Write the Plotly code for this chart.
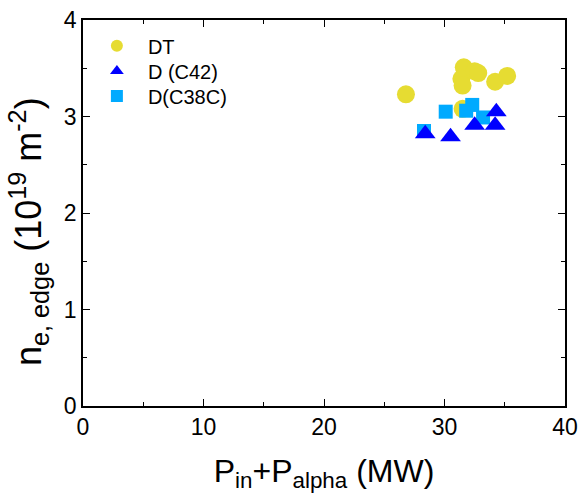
import plotly.graph_objects as go

dt_x = [26.8, 31.6, 31.4, 31.5, 32.5, 32.8, 34.2, 35.2, 31.5]
dt_y = [3.23, 3.51, 3.39, 3.32, 3.47, 3.45, 3.36, 3.42, 3.08]

c42_x = [28.4, 30.5, 32.5, 34.2, 34.3]
c42_y = [2.82, 2.79, 2.91, 2.91, 3.05]

c38_x = [28.3, 30.1, 32.3, 31.8, 33.2]
c38_y = [2.85, 3.05, 3.12, 3.06, 2.99]

FONT = "Arial, Liberation Sans, sans-serif"

fig = go.Figure()
fig.add_trace(go.Scatter(x=dt_x, y=dt_y, mode="markers", name="DT", legend="legend", showlegend=True,
                         marker=dict(symbol="circle", size=18, color="#E6DC32", line=dict(width=0))))
fig.add_trace(go.Scatter(x=c38_x, y=c38_y, mode="markers", name="D(C38C)", legend="legend3", showlegend=True,
                         marker=dict(symbol="square", size=14, color="#00AAFF", line=dict(width=0))))
fig.add_trace(go.Scatter(x=c42_x, y=c42_y, mode="markers", name="D (C42)", legend="legend2", showlegend=True,
                         marker=dict(symbol="triangle-up", size=18, color="#0000FF", line=dict(width=0))))

axis_common = dict(showline=True, linecolor="black", linewidth=1.5, mirror="ticks",
                   ticks="inside", ticklen=7, tickcolor="black", showgrid=False, zeroline=False,
                   automargin=False,
                   tickfont=dict(family=FONT, size=23, color="black"))

fig.update_xaxes(range=[0, 40], tickvals=[0, 10, 20, 30, 40],
                 minor=dict(tickvals=[5, 15, 25, 35], ticks="inside", ticklen=4, tickcolor="black"),
                 title=dict(text="P<sub>in</sub>+P<sub>alpha</sub> (MW)",
                            font=dict(family=FONT, size=32, color="black"), standoff=20),
                 **axis_common)
fig.update_yaxes(range=[0, 4], tickvals=[0, 1, 2, 3, 4],
                 minor=dict(tickvals=[0.5, 1.5, 2.5, 3.5], ticks="inside", ticklen=4, tickcolor="black"),
                 **axis_common)

fig.add_annotation(text="n<sub>e, edge</sub> (10<sup>19</sup> m<sup>-2</sup>)",
                   xref="paper", yref="paper", x=-0.112, y=0.451, xanchor="center", yanchor="middle",
                   textangle=-90, showarrow=False,
                   font=dict(family=FONT, size=36, color="black"))

leg_common = dict(x=0.006, xanchor="left", yanchor="middle", bgcolor="rgba(0,0,0,0)",
                  font=dict(family=FONT, size=20, color="black"),
                  itemsizing="constant", itemwidth=52)

fig.update_layout(width=579, height=498, margin=dict(l=83, r=14, t=20, b=92),
                  plot_bgcolor="white", paper_bgcolor="white", showlegend=True,
                  legend=dict(y=0.933, **leg_common),
                  legend2=dict(y=0.868, **leg_common),
                  legend3=dict(y=0.803, **leg_common))

fig.write_html("out.html")
